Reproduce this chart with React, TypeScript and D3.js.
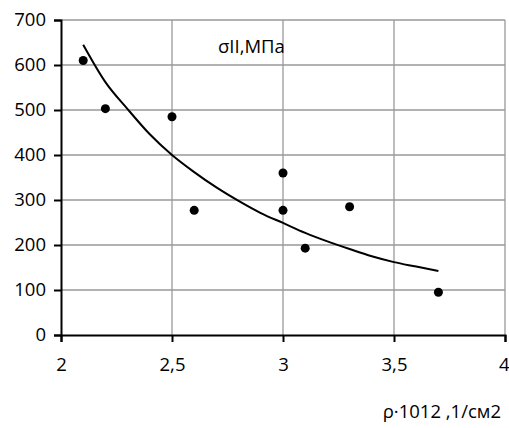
import React, { useEffect, useRef } from "react";
import * as d3 from "d3";

// measured points
const pointX = [2.1, 2.2, 2.5, 2.6, 3.0, 3.0, 3.1, 3.3, 3.7];
const pointY = [610, 503, 485, 277, 360, 277, 193, 285, 95];

// trend line
const lineX = [2.1, 2.2, 2.3, 2.4, 2.5, 2.6, 2.7, 2.8, 2.9, 3.0, 3.1, 3.2, 3.3, 3.4, 3.5, 3.6, 3.7];
const lineY = [645, 562, 502, 446, 400, 362, 328, 298, 271, 249, 227, 208, 191, 175, 162, 152, 142];

const xTicks = [2, 2.5, 3, 3.5, 4];
const yTicks = [0, 100, 200, 300, 400, 500, 600, 700];

const seriesLabel = "σII,МПа";
const xTitle = "ρ·1012 ,1/см2";

export default function App() {
  const svgRef = useRef<SVGSVGElement>(null);

  useEffect(() => {
    const width = 509;
    const height = 428;
    const margin = { left: 61, right: 4, top: 20, bottom: 93 };

    const svg = d3.select(svgRef.current).attr("width", width).attr("height", height);
    svg.selectAll("*").remove();

    const x = d3.scaleLinear().domain([2, 4]).range([margin.left, width - margin.right]);
    const y = d3.scaleLinear().domain([0, 700]).range([height - margin.bottom, margin.top]);

    const font = "'Open Sans', sans-serif";
    const fontSize = 18.5;

    // grid
    svg
      .append("g")
      .selectAll("line.h")
      .data(yTicks.filter((d) => d > 0))
      .join("line")
      .attr("x1", x(2))
      .attr("x2", x(4))
      .attr("y1", (d) => y(d))
      .attr("y2", (d) => y(d))
      .attr("stroke", "#999")
      .attr("stroke-width", 1.3);

    svg
      .append("g")
      .selectAll("line.v")
      .data(xTicks.filter((d) => d > 2))
      .join("line")
      .attr("x1", (d) => x(d))
      .attr("x2", (d) => x(d))
      .attr("y1", y(0))
      .attr("y2", y(700))
      .attr("stroke", "#999")
      .attr("stroke-width", 1.3);

    // y axis
    const yAxis = svg
      .append("g")
      .attr("transform", `translate(${x(2)},0)`)
      .call(d3.axisLeft(y).tickValues(yTicks).tickSize(7).tickPadding(8));
    yAxis.select(".domain").attr("stroke", "#000").attr("stroke-width", 2);
    yAxis.selectAll(".tick line").attr("stroke", "#000").attr("stroke-width", 2);
    yAxis
      .selectAll(".tick text")
      .attr("font-family", font)
      .attr("font-size", fontSize)
      .attr("fill", "#000");

    // x axis
    const xAxis = svg
      .append("g")
      .attr("transform", `translate(0,${y(0)})`)
      .call(
        d3
          .axisBottom(x)
          .tickValues(xTicks)
          .tickSize(7)
          .tickPadding(16)
          .tickFormat((d) => String(d).replace(".", ","))
      );
    xAxis.select(".domain").attr("stroke", "#000").attr("stroke-width", 2);
    xAxis.selectAll(".tick line").attr("stroke", "#000").attr("stroke-width", 2);
    xAxis
      .selectAll(".tick text")
      .attr("font-family", font)
      .attr("font-size", fontSize)
      .attr("fill", "#000");
    // last label sits against the right edge
    xAxis
      .selectAll<SVGTextElement, number>(".tick text")
      .filter((d) => d === 4)
      .attr("text-anchor", "end")
      .attr("dx", 4);

    // trend line
    const line = d3
      .line<number>()
      .x((d, i) => x(lineX[i]))
      .y((d) => y(d))
      .curve(d3.curveMonotoneX);
    svg
      .append("path")
      .datum(lineY)
      .attr("d", line)
      .attr("fill", "none")
      .attr("stroke", "#000")
      .attr("stroke-width", 2);

    // points
    svg
      .append("g")
      .selectAll("circle")
      .data(pointY)
      .join("circle")
      .attr("cx", (d, i) => x(pointX[i]))
      .attr("cy", (d) => y(d))
      .attr("r", 4.5)
      .attr("fill", "#000");

    // labels
    svg
      .append("text")
      .attr("x", 218)
      .attr("y", 53)
      .attr("font-family", font)
      .attr("font-size", fontSize)
      .attr("fill", "#000")
      .text(seriesLabel);

    svg
      .append("text")
      .attr("x", 501)
      .attr("y", 418)
      .attr("text-anchor", "end")
      .attr("font-family", font)
      .attr("font-size", fontSize)
      .attr("fill", "#000")
      .text(xTitle);
  }, []);

  return (
    <div style={{ position: "absolute", left: 0, top: 0 }}>
      <svg ref={svgRef}></svg>
    </div>
  );
}
